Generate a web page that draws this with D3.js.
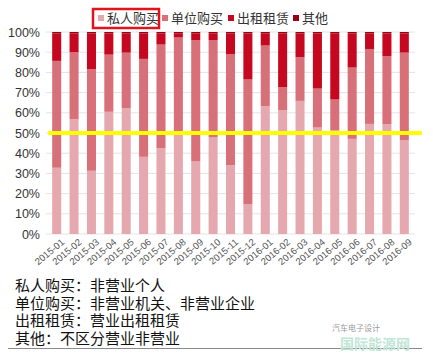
<!DOCTYPE html>
<html><head><meta charset="utf-8">
<script src="https://cdn.jsdelivr.net/npm/d3@7"></script>
<style>body{margin:0;background:#fff}svg{display:block;font-family:"Liberation Sans","Noto Sans CJK SC",sans-serif}</style>
</head><body>
<script>
const categories = ["2015-01","2015-02","2015-03","2015-04","2015-05","2015-06","2015-07","2015-08","2015-09","2015-10","2015-11","2015-12","2016-01","2016-02","2016-03","2016-04","2016-05","2016-06","2016-07","2016-08","2016-09"];
const seriesNames = ["私人购买","单位购买","出租租赁","其他"];
const privateBuy = [32.8,56.8,31.3,60.5,62.3,38.2,42.5,49.5,35.9,47.8,34.1,14.7,63.3,61.3,65.9,52.7,51.4,47.1,54.5,54.3,46.5];
const unitBuy    = [52.9,33.2,50.3,28.3,27.5,48.5,51.3,47.8,60.0,48.2,55.0,61.8,30.0,11.4,21.6,19.3,15.2,35.3,37.1,33.7,43.3];
const rental     = [13.5,9.2,17.6,10.4,9.4,12.5,5.4,1.9,3.3,3.2,10.1,22.7,5.9,26.5,11.7,27.2,32.6,16.8,7.6,11.2,9.4];
const other      = [0.8,0.8,0.8,0.8,0.8,0.8,0.8,0.8,0.8,0.8,0.8,0.8,0.8,0.8,0.8,0.8,0.8,0.8,0.8,0.8,0.8];
const yTicks = [0,10,20,30,40,50,60,70,80,90,100];
const notes = ["私人购买：非营业个人","单位购买：非营业机关、非营业企业","出租租赁：营业出租租赁","其他：不区分营业非营业"];
const colors = ["#e6a8af","#d8707a","#c5081f","#9c0016"];

const W=433,H=355;
const svg=d3.select("body").append("svg").attr("width",W).attr("height",H);
const x=d3.scaleBand().domain(categories).range([48,413]).paddingInner(0.48).paddingOuter(0.24);
const y=d3.scaleLinear().domain([0,100]).range([234,32]);

// grid
svg.append("g").selectAll("line").data(yTicks).join("line")
  .attr("x1",46).attr("x2",415).attr("y1",d=>y(d)).attr("y2",d=>y(d))
  .attr("stroke","#e4e4e4").attr("stroke-width",1);

// y axis
const yAxis=d3.axisLeft(y).tickValues(yTicks).tickFormat(d=>d+"%").tickSize(0).tickPadding(0);
const ga=svg.append("g").attr("transform","translate(40,0)").call(yAxis);
ga.select(".domain").remove();
ga.selectAll("text").attr("font-size",12.5).attr("fill","#333").attr("font-family","Liberation Sans, Arial, sans-serif");

// stacked bars
const rows=categories.map((c,i)=>({cat:c,"私人购买":privateBuy[i],"单位购买":unitBuy[i],"出租租赁":rental[i],"其他":other[i]}));
const stack=d3.stack().keys(seriesNames)(rows);
svg.append("g").selectAll("g").data(stack).join("g").attr("fill",(d,i)=>colors[i])
  .selectAll("rect").data(d=>d).join("rect")
  .attr("x",d=>x(d.data.cat)).attr("width",x.bandwidth())
  .attr("y",d=>y(d[1])).attr("height",d=>y(d[0])-y(d[1]));

// x axis labels
const xAxis=d3.axisBottom(x).tickSize(0).tickPadding(0);
const gx=svg.append("g").attr("transform","translate(0,236)").call(xAxis);
gx.select(".domain").remove();
gx.selectAll("text").attr("font-size",9.5).attr("fill","#555")
  .attr("font-family","Liberation Sans, Arial, sans-serif")
  .attr("text-anchor","end").attr("dy","0.7em")
  .attr("transform","translate(4,2) rotate(-40)");

// yellow 50% line
svg.append("line").attr("x1",48).attr("x2",422).attr("y1",y(50)).attr("y2",y(50))
  .attr("stroke","#ffff00").attr("stroke-width",4);

// legend
const legX=[98,162,228,293];
const lg=svg.append("g");
seriesNames.forEach((n,i)=>{
  lg.append("rect").attr("x",legX[i]).attr("y",15).attr("width",6).attr("height",6).attr("fill",colors[i]);
  lg.append("text").attr("x",legX[i]+9).attr("y",23).attr("font-size",13).attr("fill","#333").text(n);
});
lg.append("rect").attr("x",93).attr("y",9).attr("width",66).attr("height",19)
  .attr("fill","none").attr("stroke","#e0141e").attr("stroke-width",2.5);

// notes
svg.append("g").selectAll("text").data(notes).join("text")
  .attr("x",15).attr("y",(d,i)=>291+i*17.7).attr("font-size",15).attr("fill","#111").text(d=>d);
svg.append("line").attr("x1",8).attr("x2",422).attr("y1",348.5).attr("y2",348.5).attr("stroke","#8a8a8a").attr("stroke-width",1.2);

// watermark
svg.append("text").attr("x",332).attr("y",331).attr("font-size",8).attr("fill","#999").text("汽车电子设计");
svg.append("text").attr("x",340).attr("y",349).attr("font-size",14).attr("fill","#bfe6d8").attr("font-weight","bold").text("国际能源网");
</script>
</body></html>
